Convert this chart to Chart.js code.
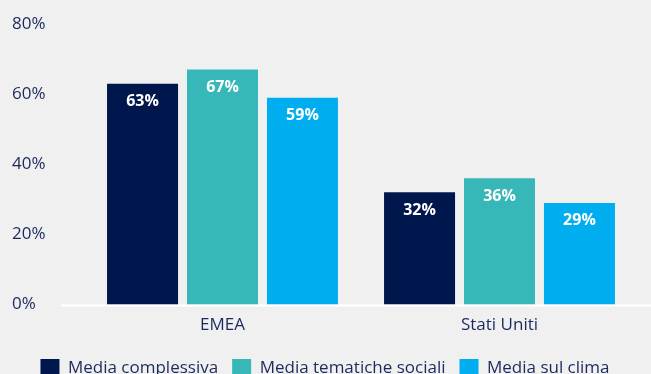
<!DOCTYPE html>
<html>
<head>
<meta charset="utf-8">
<script src="https://cdn.jsdelivr.net/npm/chart.js@4/dist/chart.umd.min.js"></script>
<style>
  html, body { margin: 0; padding: 0; background: #f0f0f0; overflow: hidden; }
  #wrap { width: 651px; height: 388px; }
</style>
</head>
<body>
<div id="wrap"><canvas id="barChart"></canvas></div>
<script>
// categories on the x axis
const categories = ["EMEA", "Stati Uniti"];
// series (percent)
const mediaComplessiva = [63, 32];
const mediaTematicheSociali = [67, 36];
const mediaSulClima = [59, 29];
const seriesNames = ["Media complessiva", "Media tematiche sociali", "Media sul clima"];
// y axis
const Y_MAX = 80;
const Y_STEP = 20;

const NAVY = "#00174d";
const TEAL = "#37b7b7";
const BLUE = "#00aeef";
const TEXT = "#1b2a5c";
const FONT = "'Open Sans', sans-serif";

// white value labels just inside the top of each bar
const barLabels = {
  id: "barLabels",
  afterDatasetsDraw(chart) {
    const ctx = chart.ctx;
    ctx.save();
    ctx.fillStyle = "#ffffff";
    ctx.font = "bold 16px " + FONT;
    ctx.textAlign = "center";
    ctx.textBaseline = "middle";
    chart.data.datasets.forEach((ds, i) => {
      chart.getDatasetMeta(i).data.forEach((bar, j) => {
        ctx.fillText(ds.data[j] + "%", bar.x, bar.y + 18);
      });
    });
    ctx.restore();
  }
};

// white baseline at 0, wider than the plot area
const baseLine = {
  id: "baseLine",
  beforeDatasetsDraw(chart) {
    const y = Math.round(chart.scales.y.getPixelForValue(0)) + 0.5;
    const ctx = chart.ctx;
    ctx.save();
    ctx.strokeStyle = "#ffffff";
    ctx.lineWidth = 2;
    ctx.beginPath();
    ctx.moveTo(61, y);
    ctx.lineTo(chart.width, y);
    ctx.stroke();
    ctx.restore();
  }
};

new Chart(document.getElementById("barChart"), {
  type: "bar",
  data: {
    labels: categories,
    datasets: [
      { label: seriesNames[0], data: mediaComplessiva, backgroundColor: NAVY },
      { label: seriesNames[1], data: mediaTematicheSociali, backgroundColor: TEAL },
      { label: seriesNames[2], data: mediaSulClima, backgroundColor: BLUE }
    ]
  },
  options: {
    responsive: true,
    maintainAspectRatio: false,
    animation: false,
    categoryPercentage: 0.866,
    barPercentage: 0.888,
    layout: { padding: { left: 12, right: 13, top: 24, bottom: 0 } },
    plugins: {
      legend: {
        position: "bottom",
        labels: {
          color: TEXT,
          font: { family: FONT, size: 17 },
          boxWidth: 19,
          boxHeight: 19,
          padding: 14
        }
      },
      tooltip: { enabled: false }
    },
    scales: {
      x: {
        grid: { display: false, drawTicks: false },
        border: { display: false },
        ticks: { color: TEXT, font: { family: FONT, size: 17 }, padding: 10 }
      },
      y: {
        min: 0,
        max: Y_MAX,
        grid: { display: false, drawTicks: false },
        border: { display: false },
        afterFit: s => { s.width = 72; },
        ticks: {
          stepSize: Y_STEP,
          crossAlign: "far",
          color: TEXT,
          font: { family: FONT, size: 17 },
          callback: v => v + "%"
        }
      }
    }
  },
  plugins: [baseLine, barLabels]
});
</script>
</body>
</html>
